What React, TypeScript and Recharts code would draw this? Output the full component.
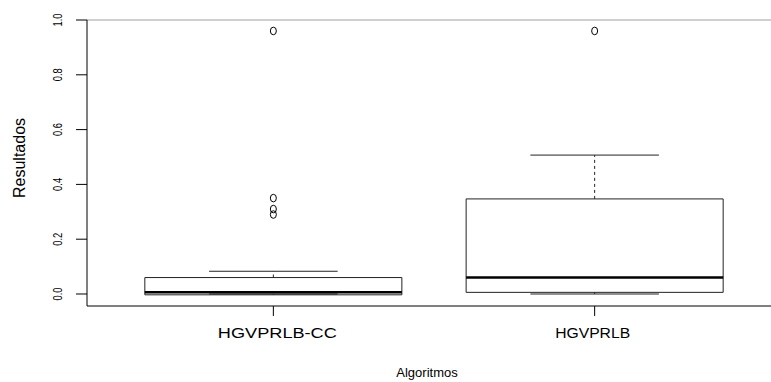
import React from "react";
import {
  ComposedChart,
  XAxis,
  YAxis,
  Scatter,
  ReferenceArea,
  ReferenceLine,
} from "recharts";

const groups = ["HGVPRLB-CC", "HGVPRLB"];
const groupPos = [1, 2];
const lowerWhisker = [0, 0];
const q1 = [-0.003, 0.006];
const medians = [0.006, 0.06];
const q3 = [0.06, 0.347];
const upperWhisker = [0.083, 0.507];
const outliersCC = [0.96, 0.35, 0.31, 0.29];
const outliersBase = [0.96];
const yTicks = [0, 0.2, 0.4, 0.6, 0.8, 1.0];

const outlierPoints = [
  ...outliersCC.map((v) => ({ x: groupPos[0], y: v })),
  ...outliersBase.map((v) => ({ x: groupPos[1], y: v })),
];

const FONT = "'Liberation Sans', Arial, sans-serif";
const BOX_HALF = 0.4;
const CAP_HALF = 0.2;

const YTick = (props: any) => {
  const { y, payload } = props;
  return (
    <text
      x={62}
      y={y}
      transform={`rotate(-90, 62, ${y})`}
      textAnchor="middle"
      fontFamily={FONT}
      fontSize={12}
      fill="#000"
      textLength={13}
      lengthAdjust="spacingAndGlyphs"
    >
      {payload.value.toFixed(1)}
    </text>
  );
};

const XTick = (props: any) => {
  const { x, payload } = props;
  const idx = groupPos.indexOf(payload.value);
  const label = groups[idx] ?? "";
  return (
    <text
      x={x + (idx === 0 ? 4 : -2)}
      y={338}
      textAnchor="middle"
      fontFamily={FONT}
      fontSize={14}
      fill="#000"
      textLength={idx === 0 ? 119 : 75}
      lengthAdjust="spacingAndGlyphs"
    >
      {label}
    </text>
  );
};

const Outlier = (props: any) => {
  const { cx, cy } = props;
  return <ellipse cx={cx} cy={cy} rx={3} ry={3.8} fill="none" stroke="#000" strokeWidth={1} />;
};

export default function App() {
  return (
    <div
      style={{
        position: "absolute",
        left: 0,
        top: 0,
        width: 771,
        height: 382,
        overflow: "hidden",
        background: "#fff",
      }}
    >
      <ComposedChart
        width={800}
        height={382}
        margin={{ top: 20, right: 19, bottom: 0, left: 0 }}
      >
        <XAxis
          type="number"
          dataKey="x"
          domain={[0.42, 2.58]}
          ticks={groupPos}
          allowDataOverflow
          height={76}
          tickSize={10}
          tick={<XTick />}
          axisLine={{ stroke: "#000" }}
          tickLine={{ stroke: "#000" }}
          label={{
            content: () => (
              <text x={427} y={377} textAnchor="middle" fontFamily={FONT} fontSize={13} fill="#000">
                Algoritmos
              </text>
            ),
          }}
        />
        <YAxis
          type="number"
          dataKey="y"
          domain={[-0.0438, 1.0]}
          ticks={yTicks}
          allowDataOverflow
          width={87}
          tickSize={11}
          tick={<YTick />}
          axisLine={{ stroke: "#000" }}
          tickLine={{ stroke: "#000" }}
          label={{
            content: () => (
              <text
                x={25}
                y={158}
                transform="rotate(-90, 25, 158)"
                textAnchor="middle"
                fontFamily={FONT}
                fontSize={16}
                fill="#000"
              >
                Resultados
              </text>
            ),
          }}
        />
        <ReferenceLine y={1.0} stroke="#a0a0a0" strokeWidth={1} ifOverflow="extendDomain" />
        {groupPos.map((pos, i) => (
          <React.Fragment key={groups[i]}>
            <ReferenceLine
              segment={[
                { x: pos, y: q3[i] },
                { x: pos, y: upperWhisker[i] },
              ]}
              stroke="#222"
              strokeDasharray="3 3"
            />
            <ReferenceLine
              segment={[
                { x: pos, y: lowerWhisker[i] },
                { x: pos, y: q1[i] },
              ]}
              stroke="#222"
              strokeDasharray="3 3"
            />
            <ReferenceLine
              segment={[
                { x: pos - CAP_HALF, y: upperWhisker[i] },
                { x: pos + CAP_HALF, y: upperWhisker[i] },
              ]}
              stroke="#222"
            />
            <ReferenceLine
              segment={[
                { x: pos - CAP_HALF, y: lowerWhisker[i] },
                { x: pos + CAP_HALF, y: lowerWhisker[i] },
              ]}
              stroke="#222"
            />
            <ReferenceArea
              x1={pos - BOX_HALF}
              x2={pos + BOX_HALF}
              y1={q1[i]}
              y2={q3[i]}
              fill="#fff"
              fillOpacity={1}
              stroke="#222"
              strokeWidth={1}
            />
            <ReferenceLine
              segment={[
                { x: pos - BOX_HALF, y: medians[i] },
                { x: pos + BOX_HALF, y: medians[i] },
              ]}
              stroke="#000"
              strokeWidth={2.5}
            />
          </React.Fragment>
        ))}
        <Scatter data={outlierPoints} dataKey="y" shape={<Outlier />} isAnimationActive={false} />
      </ComposedChart>
    </div>
  );
}
